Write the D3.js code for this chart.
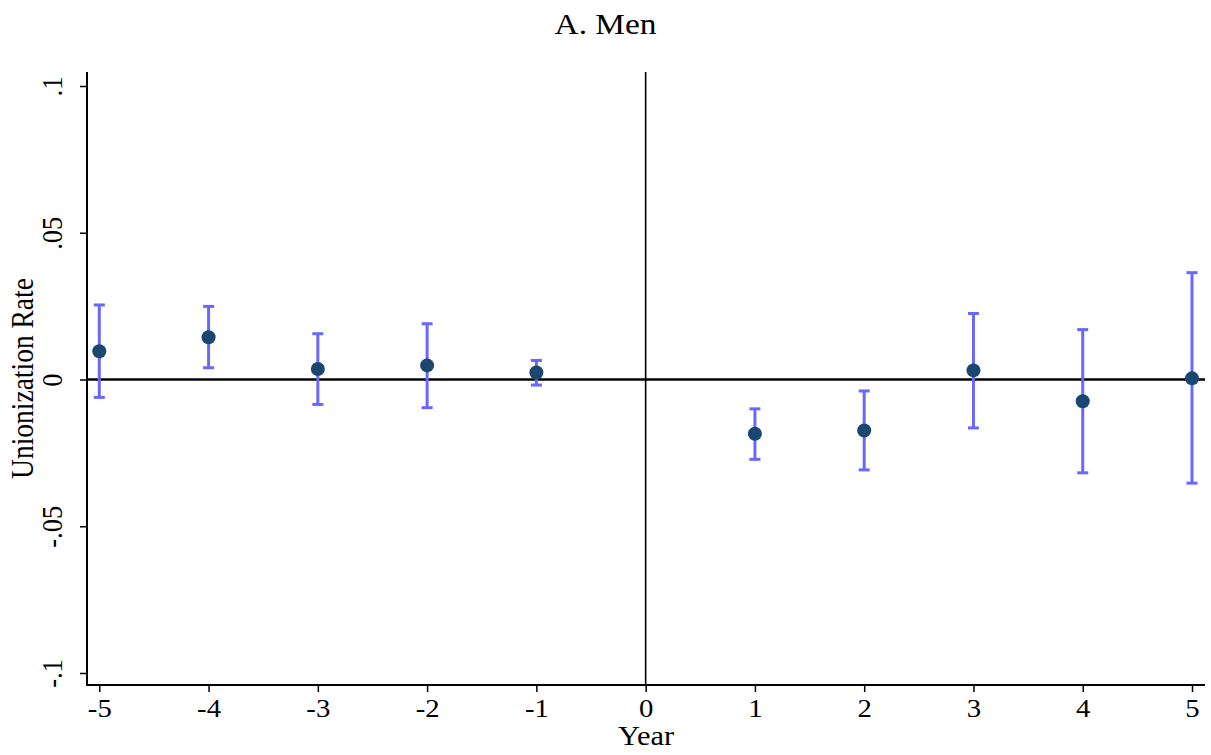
<!DOCTYPE html>
<html>
<head>
<meta charset="utf-8">
<script src="https://cdn.jsdelivr.net/npm/d3@7"></script>
<style>
  body { margin: 0; background: #fff; }
  svg text { font-family: "Liberation Serif", "Times New Roman", serif; fill: #000; }
</style>
</head>
<body>
<div id="chart"></div>
<script>
var width = 1211,
    height = 755;

// event-time coefficients
var years = [-5, -4, -3, -2, -1, 1, 2, 3, 4, 5];
var coef  = [0.0096, 0.0144, 0.0036, 0.0048, 0.0024, -0.0185, -0.0174, 0.0031, -0.0074, 0.0004];
var ciLow = [-0.0061, 0.0040, -0.0085, -0.0096, -0.0019, -0.0272, -0.0308, -0.0165, -0.0318, -0.0353];
var ciHigh = [0.0254, 0.0249, 0.0156, 0.0190, 0.0065, -0.0100, -0.0039, 0.0225, 0.0170, 0.0364];

var xTicks = [-5, -4, -3, -2, -1, 0, 1, 2, 3, 4, 5];
var yTicks = [-0.1, -0.05, 0, 0.05, 0.1];
var yTickLabels = ["-.1", "-.05", "0", ".05", ".1"];

var plot = { left: 87, right: 1205, top: 72, bottom: 685 };

// the original export is a little wider than tall, so glyphs are stretched
var stretch = 1.15;

var x = d3.scaleLinear()
    .domain([-5, 5])
    .range([99.3, 1192]);

var y = d3.scaleLinear()
    .domain([-0.1, 0.1])
    .range([673, 86]);

var svg = d3.select("#chart").append("svg")
    .attr("width", width)
    .attr("height", height);

function hText(px, py, size, str) {
  return svg.append("text")
      .attr("transform", "translate(" + px + "," + py + ") scale(" + stretch + ",1)")
      .attr("text-anchor", "middle")
      .style("font-size", size + "px")
      .text(str);
}

// title
hText(width / 2, 34, 29, "A. Men");

// y axis
var yAxis = svg.append("g")
    .attr("transform", "translate(" + plot.left + ",0)")
    .call(d3.axisLeft(y)
      .tickValues(yTicks)
      .tickSize(7)
      .tickFormat(function(d, i) { return yTickLabels[i]; }));

yAxis.select(".domain").remove();
yAxis.selectAll(".tick line").attr("stroke", "#000").attr("stroke-width", 1.5);
yAxis.selectAll(".tick text")
    .attr("transform", "scale(" + stretch + ",1) rotate(-90)")
    .attr("x", 0)
    .attr("y", -25 / stretch)
    .attr("dy", 0)
    .attr("text-anchor", "middle")
    .style("font-size", "26.5px");

// x axis
var xAxis = svg.append("g")
    .attr("transform", "translate(0," + plot.bottom + ")")
    .call(d3.axisBottom(x)
      .tickValues(xTicks)
      .tickSize(7)
      .tickFormat(d3.format("d")));

xAxis.select(".domain").remove();
xAxis.selectAll(".tick line").attr("stroke", "#000").attr("stroke-width", 1.5);
xAxis.selectAll(".tick text")
    .attr("transform", "scale(" + stretch + ",1)")
    .attr("y", 32.5)
    .attr("dy", 0)
    .style("font-size", "25px")
    .text(function(d) { return d < 0 ? "-" + Math.abs(d) : d; });

// axis lines
svg.append("line")
    .attr("x1", plot.left).attr("x2", plot.left)
    .attr("y1", plot.top).attr("y2", plot.bottom + 1)
    .attr("stroke", "#000").attr("stroke-width", 2);

svg.append("line")
    .attr("x1", plot.left).attr("x2", plot.right)
    .attr("y1", plot.bottom).attr("y2", plot.bottom)
    .attr("stroke", "#000").attr("stroke-width", 2);

// reference lines
svg.append("line")
    .attr("x1", x(0)).attr("x2", x(0))
    .attr("y1", plot.top).attr("y2", plot.bottom)
    .attr("stroke", "#000").attr("stroke-width", 1.6);

svg.append("line")
    .attr("x1", plot.left).attr("x2", plot.right)
    .attr("y1", y(0)).attr("y2", y(0))
    .attr("stroke", "#000").attr("stroke-width", 2.4);

// axis titles
svg.append("text")
    .attr("transform", "translate(33," + ((plot.top + plot.bottom) / 2) + ") scale(" + stretch + ",1) rotate(-90)")
    .attr("text-anchor", "middle")
    .style("font-size", "27.5px")
    .text("Unionization Rate");

hText((plot.left + plot.right) / 2, 745, 26.5, "Year");

// error bars
var points = years.map(function(yr, i) {
  return { year: yr, b: coef[i], lo: ciLow[i], hi: ciHigh[i] };
});

var barColor = "#6868ff",
    capHalf = 5.5;

var bars = svg.append("g").selectAll("g")
    .data(points)
    .enter().append("g");

bars.append("line")
    .attr("x1", function(d) { return x(d.year); })
    .attr("x2", function(d) { return x(d.year); })
    .attr("y1", function(d) { return y(d.lo); })
    .attr("y2", function(d) { return y(d.hi); })
    .attr("stroke", barColor).attr("stroke-width", 3);

bars.append("line")
    .attr("x1", function(d) { return x(d.year) - capHalf; })
    .attr("x2", function(d) { return x(d.year) + capHalf; })
    .attr("y1", function(d) { return y(d.hi); })
    .attr("y2", function(d) { return y(d.hi); })
    .attr("stroke", barColor).attr("stroke-width", 3);

bars.append("line")
    .attr("x1", function(d) { return x(d.year) - capHalf; })
    .attr("x2", function(d) { return x(d.year) + capHalf; })
    .attr("y1", function(d) { return y(d.lo); })
    .attr("y2", function(d) { return y(d.lo); })
    .attr("stroke", barColor).attr("stroke-width", 3);

// point estimates
svg.append("g").selectAll("circle")
    .data(points)
    .enter().append("circle")
    .attr("cx", function(d) { return x(d.year); })
    .attr("cy", function(d) { return y(d.b); })
    .attr("r", 7)
    .attr("fill", "#1a476f");
</script>
</body>
</html>
